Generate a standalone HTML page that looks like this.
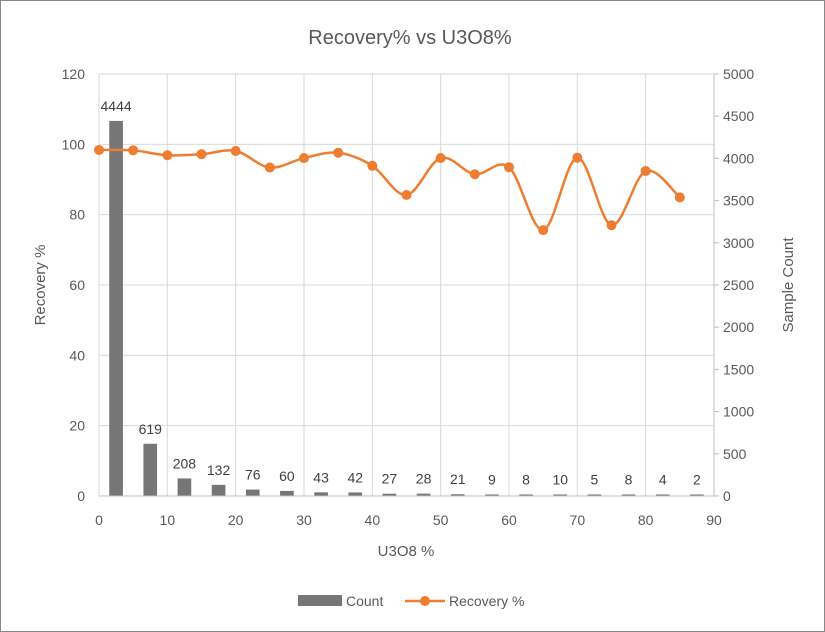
<!DOCTYPE html>
<html><head><meta charset="utf-8"><style>
html,body{margin:0;padding:0;background:#fff}
svg{display:block;font-family:"Liberation Sans",sans-serif}
</style></head><body>
<svg id="chart" width="825" height="632" viewBox="0 0 825 632">
<rect x="0.5" y="0.5" width="824" height="631" fill="#fff" stroke="#888"/>
<text x="410" y="44" text-anchor="middle" font-size="20" fill="#595959">Recovery% vs U3O8%</text>
<g id="grid"></g>
<g id="bars"></g>
<g id="line"></g>
<g id="axes"></g>
<text transform="translate(45,285) rotate(-90)" text-anchor="middle" font-size="15" fill="#595959">Recovery %</text>
<text transform="translate(793,285) rotate(-90)" text-anchor="middle" font-size="15" fill="#595959">Sample Count</text>
<text x="406" y="556" text-anchor="middle" font-size="15" fill="#595959">U3O8 %</text>
<g>
<g><rect x="298" y="595" width="44" height="11" fill="#767676"/><text x="346" y="606" font-size="14" fill="#595959">Count</text></g>
<g><line x1="405" y1="601" x2="445" y2="601" stroke="#ED7D31" stroke-width="2.5"/><circle cx="425" cy="601" r="5" fill="#ED7D31"/><text x="449" y="606" font-size="14" fill="#595959">Recovery %</text></g>
</g>
</svg>
<script>
const binCenters=[2.5,7.5,12.5,17.5,22.5,27.5,32.5,37.5,42.5,47.5,52.5,57.5,62.5,67.5,72.5,77.5,82.5,87.5];
const counts=[4444,619,208,132,76,60,43,42,27,28,21,9,8,10,5,8,4,2];
const recX=[0,5,10,15,20,25,30,35,40,45,50,55,60,65,70,75,80,85];
const recovery=[98.4,98.3,96.9,97.2,98.1,93.4,96.1,97.6,93.9,85.6,96.1,91.5,93.5,75.6,96.2,77,92.4,84.9];
const xTicks=[0,10,20,30,40,50,60,70,80,90];
const yTicks=[0,20,40,60,80,100,120];
const y2Ticks=[0,500,1000,1500,2000,2500,3000,3500,4000,4500,5000];
const NS="http://www.w3.org/2000/svg";
const L=99,R=714,T=74,B=496;
const xs=v=>L+(v-0)/90*(R-L);
const ys=v=>B-v/120*(B-T);
const y2s=v=>B-v/5000*(B-T);
function mk(tag,attrs,parent){const e=document.createElementNS(NS,tag);for(const k in attrs)e.setAttribute(k,attrs[k]);parent.appendChild(e);return e;}
const grid=document.getElementById('grid'),axes=document.getElementById('axes'),bars=document.getElementById('bars'),line=document.getElementById('line');
yTicks.forEach(t=>{const l=mk('line',{x1:L,x2:R,y1:ys(t),y2:ys(t),stroke:'#d9d9d9','stroke-width':1},grid);


const tx=mk('text',{x:L-14,y:ys(t)+5,'text-anchor':'end','font-size':14,fill:'#595959'},axes);tx.textContent=t;

});
xTicks.forEach(t=>{const l=mk('line',{x1:xs(t),x2:xs(t),y1:T,y2:B,stroke:'#d9d9d9','stroke-width':1},grid);


const tx=mk('text',{x:xs(t),y:B+29,'text-anchor':'middle','font-size':14,fill:'#595959'},axes);tx.textContent=t;

});
y2Ticks.forEach(t=>{const l=mk('line',{x1:R,x2:R+5,y1:y2s(t),y2:y2s(t),stroke:'#bfbfbf'},axes);


const tx=mk('text',{x:R+9,y:y2s(t)+5,'font-size':14,fill:'#595959'},axes);tx.textContent=t;

});
const ax=mk('line',{x1:L,x2:R,y1:B,y2:B,stroke:'#bfbfbf'},axes);


const ax2=mk('line',{x1:R,x2:R,y1:T,y2:B,stroke:'#bfbfbf'},axes);


const bw=(R-L)/90*2;
binCenters.forEach((c,i)=>{const top=y2s(counts[i]);const h=Math.max(B-top,1.5);
const r=mk('rect',{x:xs(c)-bw/2,y:B-h,width:bw,height:h,fill:'#767676'},bars);


const tx=mk('text',{x:xs(c),y:B-h-10-(i===0?0:0),'text-anchor':'middle','font-size':14,fill:'#404040'},bars);tx.textContent=counts[i];

});
const pts=recX.map((x,i)=>[xs(x),ys(recovery[i])]);
let d='M'+pts[0][0]+','+pts[0][1];
for(let i=0;i<pts.length-1;i++){const p0=pts[i-1]||pts[i],p1=pts[i],p2=pts[i+1],p3=pts[i+2]||p2;const k=1/6;
d+=' C'+(p1[0]+(p2[0]-p0[0])*k)+','+(p1[1]+(p2[1]-p0[1])*k)+' '+(p2[0]-(p3[0]-p1[0])*k)+','+(p2[1]-(p3[1]-p1[1])*k)+' '+p2[0]+','+p2[1];}
const path=mk('path',{d:d,fill:'none',stroke:'#ED7D31','stroke-width':2.5},line);


pts.forEach(p=>{const c=mk('circle',{cx:p[0],cy:p[1],r:5,fill:'#ED7D31'},line);

});
</script>
</body></html>
